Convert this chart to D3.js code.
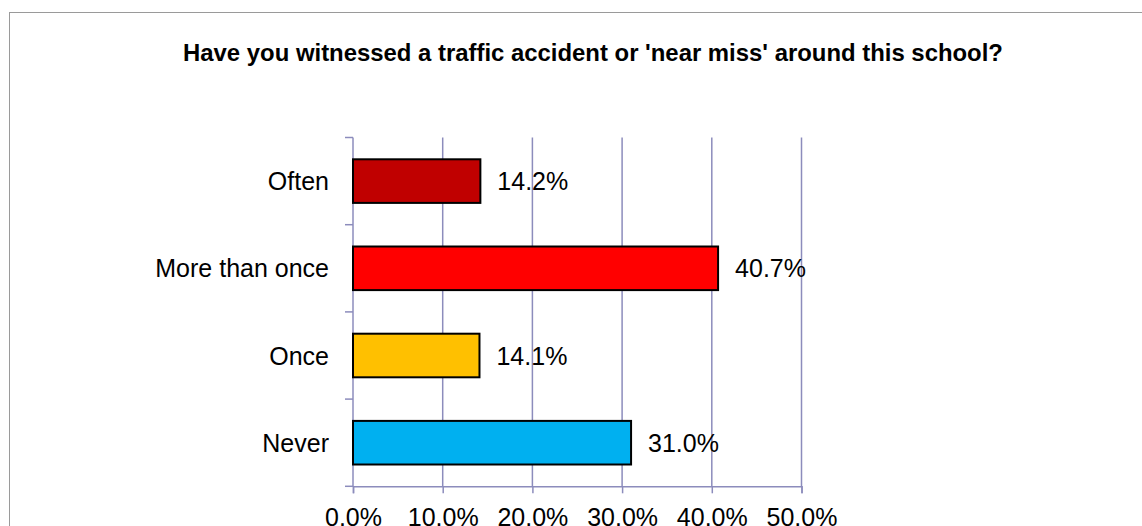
<!DOCTYPE html>
<html>
<head>
<meta charset="utf-8">
<script src="https://cdn.jsdelivr.net/npm/d3@7"></script>
<style>
  body { margin: 0; background: #fff; }
  svg { display: block; font-family: "Liberation Sans", Arial, sans-serif; }
</style>
</head>
<body>
<svg></svg>
<script>
const title = "Have you witnessed a traffic accident or 'near miss' around this school?"
const categories = ['Often', 'More than once', 'Once', 'Never']
const values = [0.142, 0.407, 0.141, 0.310]
const colors = ['#C00000', '#FF0000', '#FFC000', '#00B0F0']
const xTicks = [0, 0.1, 0.2, 0.3, 0.4, 0.5]

let width = 1142, height = 526
let plotLeft = 353, plotRight = 801.5, plotTop = 137.5, plotBottom = 486.3
let gridColor = '#8c8cbc'

let svg = d3.select('svg')
  .attr('width', width)
  .attr('height', height)

// outer chart border (chart continues past the right and bottom edges)
svg.append('rect')
  .attr('x', 9.5).attr('y', 12.5)
  .attr('width', 1200).attr('height', 600)
  .attr('fill', 'none')
  .attr('stroke', '#9a9a9a')

svg.append('text')
  .attr('x', 593).attr('y', 60.5)
  .attr('text-anchor', 'middle')
  .attr('font-size', 23.9)
  .attr('font-weight', 'bold')
  .attr('fill', '#000')
  .text(title)

let scX = d3.scaleLinear().domain([0, 0.5]).range([plotLeft, plotRight])
let scY = d3.scaleBand().domain(categories).range([plotTop, plotBottom]).paddingInner(0.5).paddingOuter(0.25)

// vertical gridlines
svg.append('g')
  .selectAll('line')
  .data(xTicks.slice(1))
  .enter().append('line')
  .attr('x1', d => scX(d)).attr('x2', d => scX(d))
  .attr('y1', plotTop).attr('y2', plotBottom)
  .attr('stroke', gridColor)
  .attr('stroke-width', 1.5)

// x axis
let axX = d3.axisBottom(scX)
  .tickValues(xTicks)
  .tickFormat(d3.format('.1%'))
  .tickSize(7)
  .tickPadding(15)
let gx = svg.append('g')
  .attr('transform', `translate(0, ${plotBottom})`)
  .call(axX)
gx.select('.domain').attr('stroke', gridColor).attr('stroke-width', 1.5)
gx.selectAll('.tick line').attr('stroke', gridColor).attr('stroke-width', 1.5)
gx.selectAll('.tick text')
  .attr('font-size', 25)
  .attr('font-family', '"Liberation Sans", Arial, sans-serif')
  .attr('fill', '#000')

// y axis: ticks at band boundaries
let bounds = d3.range(categories.length + 1).map(i => plotTop + i * (plotBottom - plotTop) / categories.length)
let gy = svg.append('g')
gy.append('line')
  .attr('x1', plotLeft).attr('x2', plotLeft)
  .attr('y1', plotTop).attr('y2', plotBottom)
  .attr('stroke', gridColor).attr('stroke-width', 1.5)
gy.selectAll('.yt')
  .data(bounds)
  .enter().append('line')
  .attr('class', 'yt')
  .attr('x1', plotLeft - 8).attr('x2', plotLeft)
  .attr('y1', d => d).attr('y2', d => d)
  .attr('stroke', gridColor).attr('stroke-width', 1.5)

gy.selectAll('.ylab')
  .data(categories)
  .enter().append('text')
  .attr('class', 'ylab')
  .attr('x', plotLeft - 24)
  .attr('y', d => scY(d) + scY.bandwidth() / 2 + 9)
  .attr('text-anchor', 'end')
  .attr('font-size', 25)
  .attr('fill', '#000')
  .text(d => d)

// bars
svg.append('g')
  .selectAll('rect')
  .data(categories)
  .enter().append('rect')
  .attr('x', scX(0))
  .attr('y', d => scY(d))
  .attr('width', (d, i) => scX(values[i]) - scX(0))
  .attr('height', scY.bandwidth())
  .attr('fill', (d, i) => colors[i])
  .attr('stroke', '#000')
  .attr('stroke-width', 2)

// value labels
svg.append('g')
  .selectAll('text')
  .data(categories)
  .enter().append('text')
  .attr('x', (d, i) => scX(values[i]) + 17)
  .attr('y', d => scY(d) + scY.bandwidth() / 2 + 9)
  .attr('font-size', 25)
  .attr('fill', '#000')
  .text((d, i) => d3.format('.1%')(values[i]))
</script>
</body>
</html>
